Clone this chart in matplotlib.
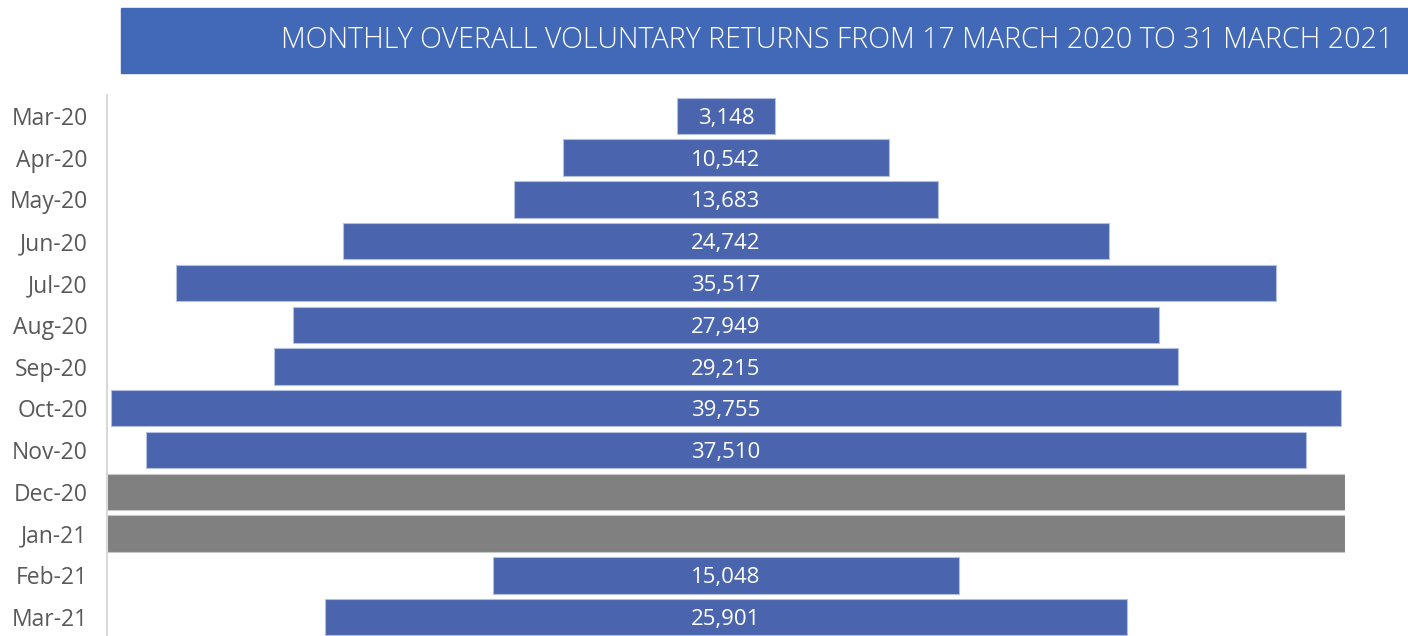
import numpy as np
import matplotlib
matplotlib.use('Agg')
import matplotlib.pyplot as plt
from matplotlib.patches import Rectangle

# ==== data ====
months = ['Mar-20', 'Apr-20', 'May-20', 'Jun-20', 'Jul-20', 'Aug-20', 'Sep-20',
          'Oct-20', 'Nov-20', 'Dec-20', 'Jan-21', 'Feb-21', 'Mar-21']
returns = [3148, 10542, 13683, 24742, 35517, 27949, 29215,
           39755, 37510, np.nan, np.nan, 15048, 25901]
no_data = [False] * 9 + [True, True] + [False] * 2

title = 'MONTHLY OVERALL VOLUNTARY RETURNS FROM 17 MARCH 2020 TO 31 MARCH 2021'

BLUE = '#4a65ad'
GREY = '#808080'
HALF = 20000

plt.rcParams['font.family'] = ['Open Sans', 'DejaVu Sans']

fig = plt.figure(figsize=(14.08, 6.36), dpi=100)
ax = fig.add_axes([107 / 1408, 0.0, (1345 - 107) / 1408, (636 - 95) / 636])

y = np.arange(len(months))
for i, (v, nd) in enumerate(zip(returns, no_data)):
    if nd:
        ax.barh(i, 2 * HALF, left=-HALF, height=0.87, color=GREY,
                edgecolor='#c8c8c8', linewidth=0.8)
    else:
        ax.barh(i, v, left=-v / 2, height=0.87, color=BLUE,
                edgecolor='#b4c0e0', linewidth=0.8)
        ax.text(0, i + 0.06, f'{v:,.0f}', ha='center', va='center',
                color='white', fontsize=16)

ax.set_xlim(-HALF, HALF)
ax.set_ylim(12.45, -0.5)
ax.set_yticks(y)
ax.set_yticklabels(months, fontsize=16.5, color='#595959')
for lbl in ax.get_yticklabels():
    lbl.set_va('center_baseline')
ax.tick_params(axis='y', length=0, pad=14)
ax.set_xticks([])
for s in ['top', 'right', 'bottom']:
    ax.spines[s].set_visible(False)
ax.spines['left'].set_color('#d9d9d9')
ax.spines['left'].set_linewidth(1.5)

# title banner
fig.patches.append(Rectangle((121 / 1408, 1 - 73 / 636), 1 - 121 / 1408, 65 / 636,
                             transform=fig.transFigure, color='#4169b8', zorder=0))
fig.text(1393 / 1408, 1 - 40 / 636, title, ha='right', va='center',
         color='white', fontsize=20.6, fontweight='light')

fig.savefig('out.png', dpi=100)
